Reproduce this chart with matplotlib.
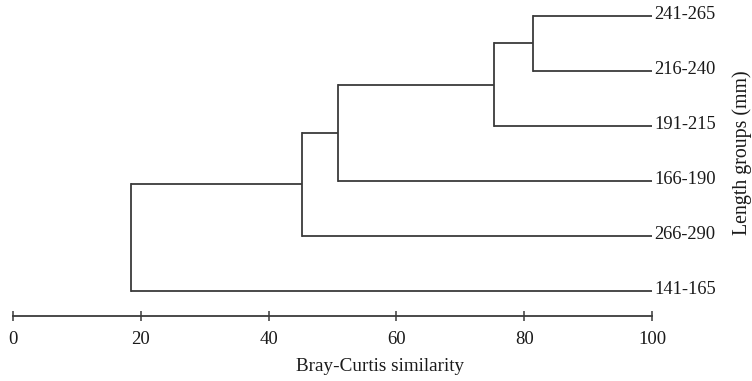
import matplotlib.pyplot as plt

# leaves, listed bottom to top
leaves = ['141-165', '266-290', '166-190', '191-215', '216-240', '241-265']
# merges: (child a, child b, similarity); ids >= len(leaves) are earlier merges
merges = [
    (5, 4, 81.3),
    (6, 3, 75.2),
    (7, 2, 50.8),
    (8, 1, 45.3),
    (9, 0, 18.5),
]
xticks = [0, 20, 40, 60, 80, 100]

plt.rcParams['font.family'] = ['Liberation Serif', 'DejaVu Serif']


def main():
    fig = plt.figure(figsize=(7.52, 3.81), dpi=100)
    ax = fig.add_axes([13 / 752, 65 / 381, 639 / 752, 311 / 381])
    col = '#3a3a3a'
    txt = '#1a1a1a'
    lw = 1.3

    # x (similarity) and y position of every node
    pos_x = {i: 100.0 for i in range(len(leaves))}
    pos_y = {i: float(i) for i in range(len(leaves))}
    for k, (a, b, s) in enumerate(merges):
        node = len(leaves) + k
        for c in (a, b):
            ax.plot([pos_x[c], s], [pos_y[c], pos_y[c]], color=col, lw=lw,
                    solid_capstyle='butt')
        ax.plot([s, s], [pos_y[a], pos_y[b]], color=col, lw=lw,
                solid_capstyle='projecting')
        pos_x[node] = s
        pos_y[node] = (pos_y[a] + pos_y[b]) / 2

    for i, name in enumerate(leaves):
        ax.text(100.4, i + 0.02, name, fontsize=13.3, va='center', ha='left',
                color=txt)

    ax.set_xlim(0, 100)
    ax.set_ylim(-25 / 55, 5 + 11 / 55)
    for s in ('top', 'right', 'left'):
        ax.spines[s].set_visible(False)
    ax.spines['bottom'].set_color(col)
    ax.spines['bottom'].set_linewidth(lw)
    ax.set_yticks([])
    ax.set_xticks(xticks)
    ax.tick_params(axis='x', direction='inout', length=7, width=1.1,
                   color=col, labelsize=13.5, labelcolor=txt, pad=7)
    ax.set_xlabel('Bray-Curtis similarity', fontsize=13.8, color=txt)
    ax.xaxis.set_label_coords((380 - 13) / 639, -42 / 311)
    fig.text(742 / 752, 1 - 153 / 381, 'Length groups (mm)', rotation=90,
             fontsize=14.3, va='center', ha='center', color=txt)

    fig.savefig('out.png', dpi=100)


if __name__ == '__main__':
    main()
